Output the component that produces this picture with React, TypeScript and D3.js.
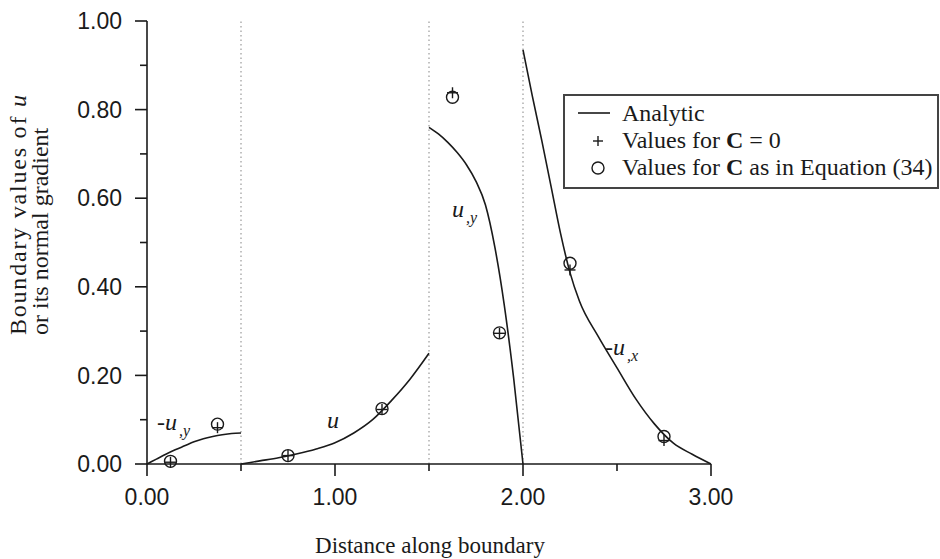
import React from 'react';
import * as d3 from 'd3';

const W = 940;
const H = 559;

// -u,y along the first edge (0 to 0.5)
const edge1X = [0, 0.05, 0.1, 0.15, 0.2, 0.25, 0.3, 0.35, 0.4, 0.45, 0.5];
const edge1Y = [0, 0.011, 0.022, 0.032, 0.041, 0.05, 0.057, 0.062, 0.066, 0.069, 0.07];

// u along the second edge (0.5 to 1.5)
const edge2X = [0.5, 0.6, 0.7, 0.8, 0.9, 1.0, 1.1, 1.2, 1.3, 1.4, 1.5];
const edge2Y = [0, 0.007, 0.014, 0.023, 0.034, 0.048, 0.07, 0.1, 0.143, 0.192, 0.25];

// u,y along the third edge (1.5 to 2.0)
const edge3X = [1.5, 1.55, 1.6, 1.65, 1.7, 1.75, 1.8, 1.85, 1.9, 1.95, 2.0];
const edge3Y = [0.76, 0.745, 0.726, 0.703, 0.675, 0.638, 0.585, 0.49, 0.36, 0.195, 0];

// -u,x along the fourth edge (2.0 to 3.0)
const edge4X = [2.0, 2.05, 2.1, 2.15, 2.2, 2.25, 2.3, 2.4, 2.5, 2.6, 2.7, 2.8, 2.9, 3.0];
const edge4Y = [0.935, 0.83, 0.73, 0.625, 0.52, 0.432, 0.368, 0.288, 0.217, 0.147, 0.09, 0.047, 0.022, 0];

// numerical values at the boundary nodes
const nodeX = [0.125, 0.375, 0.75, 1.25, 1.625, 1.875, 2.25, 2.75];
const plusY = [0.004, 0.082, 0.019, 0.123, 0.838, 0.295, 0.438, 0.053];
const circleY = [0.006, 0.09, 0.019, 0.125, 0.828, 0.296, 0.453, 0.062];

const xMajor = [0, 1, 2, 3];
const xMinor = [0.5, 1.5, 2.5];
const yMajor = [0, 0.2, 0.4, 0.6, 0.8, 1.0];
const yMinor = [0.1, 0.3, 0.5, 0.7, 0.9];
const edgeBreaks = [0.5, 1.5, 2.0];

const serif = '"Liberation Serif", "Times New Roman", serif';
const sans = '"Liberation Sans", Arial, sans-serif';
const ink = '#1a1a1a';

function App() {
  const x = d3.scaleLinear().domain([0, 3]).range([147, 711]);
  const y = d3.scaleLinear().domain([0, 1]).range([464, 21]);

  const line = d3.line<[number, number]>()
    .x(d => x(d[0]))
    .y(d => y(d[1]))
    .curve(d3.curveMonotoneX);

  const curves = [
    [edge1X, edge1Y],
    [edge2X, edge2Y],
    [edge3X, edge3Y],
    [edge4X, edge4Y],
  ].map(([xs, ys]) => line(xs.map((v, i) => [v, ys[i]] as [number, number])) || '');

  const plus = (cx: number, cy: number, r: number, key: string) => (
    <g key={key} stroke={ink} strokeWidth={1.4}>
      <line x1={cx - r} x2={cx + r} y1={cy} y2={cy} />
      <line x1={cx} x2={cx} y1={cy - r} y2={cy + r} />
    </g>
  );

  const sub = (main: string, s: string, px: number, py: number) => (
    <text x={px} y={py} fontFamily={serif} fontStyle="italic" fontSize={24} fill={ink}>
      {main}
      <tspan fontSize={16} dx={2} dy={6}>{s}</tspan>
    </text>
  );

  return (
    <div style={{ position: 'fixed', left: 0, top: 0 }}>
      <svg width={W} height={H} style={{ display: 'block', background: '#fff' }}>
        {/* edge separators */}
        {edgeBreaks.map(b => (
          <line key={'b' + b} x1={x(b)} x2={x(b)} y1={y(0)} y2={y(1)}
            stroke="#9a9a9a" strokeWidth={1.2} strokeDasharray="1.5,3" />
        ))}

        {/* axes */}
        <line x1={x(0)} x2={x(3)} y1={y(0)} y2={y(0)} stroke={ink} strokeWidth={1.6} />
        <line x1={x(0)} x2={x(0)} y1={y(0)} y2={y(1)} stroke={ink} strokeWidth={1.6} />
        {xMajor.map(t => (
          <g key={'xt' + t}>
            <line x1={x(t)} x2={x(t)} y1={y(0)} y2={y(0) + 12} stroke={ink} strokeWidth={1.6} />
            <text x={x(t)} y={505} textAnchor="middle" fontFamily={sans} fontSize={23} fill={ink}>
              {d3.format('.2f')(t)}
            </text>
          </g>
        ))}
        {xMinor.map(t => (
          <line key={'xm' + t} x1={x(t)} x2={x(t)} y1={y(0)} y2={y(0) + 7} stroke={ink} strokeWidth={1.6} />
        ))}
        {yMajor.map(t => (
          <g key={'yt' + t}>
            <line x1={x(0) - 12} x2={x(0)} y1={y(t)} y2={y(t)} stroke={ink} strokeWidth={1.6} />
            <text x={122} y={y(t)} dy="0.36em" textAnchor="end" fontFamily={sans} fontSize={23} fill={ink}>
              {d3.format('.2f')(t)}
            </text>
          </g>
        ))}
        {yMinor.map(t => (
          <line key={'ym' + t} x1={x(0) - 7} x2={x(0)} y1={y(t)} y2={y(t)} stroke={ink} strokeWidth={1.6} />
        ))}

        {/* axis titles */}
        <text x={430} y={553} textAnchor="middle" fontFamily={serif} fontSize={23} fill={ink}>
          Distance along boundary
        </text>
        <g transform="translate(26,335) rotate(-90)">
          <text x={0} y={0} fontFamily={serif} fontSize={24} fill={ink} textLength={240} lengthAdjust="spacing">
            Boundary values of <tspan fontStyle="italic">u</tspan>
          </text>
          <text x={0} y={22} fontFamily={serif} fontSize={24} fill={ink}>
            or its normal gradient
          </text>
        </g>

        {/* analytic curves */}
        {curves.map((d, i) => (
          <path key={'c' + i} d={d} fill="none" stroke={ink} strokeWidth={1.6} />
        ))}

        {/* numerical values */}
        {nodeX.map((v, i) => plus(x(v), y(plusY[i]), 5.5, 'p' + i))}
        {nodeX.map((v, i) => (
          <circle key={'o' + i} cx={x(v)} cy={y(circleY[i])} r={6} fill="none" stroke={ink} strokeWidth={1.4} />
        ))}

        {/* curve labels */}
        {sub('-u', ',y', 157, 430)}
        <text x={327} y={428} fontFamily={serif} fontStyle="italic" fontSize={24} fill={ink}>u</text>
        {sub('u', ',y', 452, 217)}
        {sub('-u', ',x', 605, 355)}

        {/* legend */}
        <rect x={564} y={95} width={374} height={93} fill="#fff" stroke="#444" strokeWidth={2} />
        <line x1={578} x2={610} y1={113} y2={113} stroke={ink} strokeWidth={1.6} />
        <text x={622} y={121} fontFamily={serif} fontSize={24} fill={ink}>Analytic</text>
        {plus(598, 141, 5, 'lp')}
        <text x={622} y={148} fontFamily={serif} fontSize={24} fill={ink}>
          Values for <tspan fontWeight="bold">C</tspan> = 0
        </text>
        <circle cx={598} cy={168} r={6} fill="none" stroke={ink} strokeWidth={1.4} />
        <text x={622} y={175} fontFamily={serif} fontSize={24} fill={ink}>
          Values for <tspan fontWeight="bold">C</tspan> as in Equation (34)
        </text>
      </svg>
    </div>
  );
}

export default App;
